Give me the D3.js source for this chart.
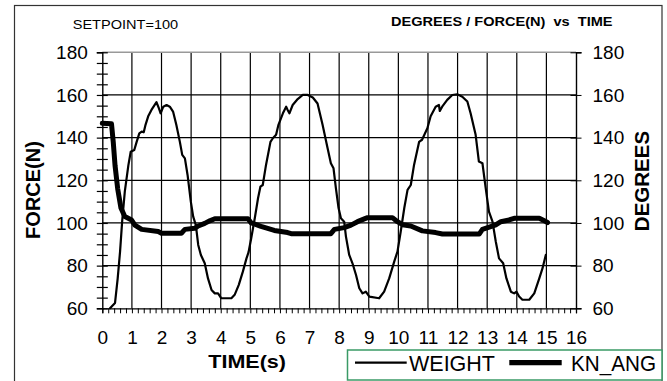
<!DOCTYPE html>
<html>
<head>
<meta charset="utf-8">
<script src="https://cdn.jsdelivr.net/npm/d3@7"></script>
<style>
  html, body { margin: 0; padding: 0; background: #fff; }
  svg { display: block; font-family: "Liberation Sans", Arial, Helvetica, sans-serif; }
</style>
</head>
<body>
<svg id="chart" width="667" height="381"></svg>
<script>
// Time (s) and force of the WEIGHT trace
const weightTime = [0.26,0.43,0.52,0.60,0.67,0.76,0.88,0.96,1.08,1.16,1.25,1.33,1.40,1.46,1.55,1.66,1.83,1.91,1.97,2.06,2.17,2.28,2.39,2.50,2.62,2.70,2.79,2.88,2.99,3.07,3.16,3.24,3.33,3.46,3.57,3.69,3.80,3.91,4.02,4.36,4.47,4.61,4.75,4.87,4.94,5.03,5.15,5.26,5.34,5.42,5.53,5.68,5.76,5.87,5.95,6.10,6.21,6.26,6.32,6.43,6.60,6.77,6.94,7.11,7.27,7.44,7.61,7.72,7.81,7.89,7.98,8.06,8.17,8.23,8.34,8.45,8.57,8.68,8.79,8.90,9.02,9.35,9.52,9.69,9.86,9.97,10.08,10.20,10.31,10.42,10.53,10.70,10.80,10.98,11.09,11.26,11.37,11.40,11.48,11.65,11.82,11.99,12.16,12.33,12.44,12.61,12.72,12.84,12.95,13.06,13.18,13.29,13.40,13.54,13.65,13.80,13.91,13.99,14.08,14.19,14.42,14.59,14.76,14.87,14.98];
const weightValues = [60,62.5,74,86.6,100.6,114.7,127,133.4,134.2,138,142,142.8,142.5,146,150,153,156.6,153.8,151.4,154.5,155.3,154.5,152.2,146,138,131.9,130.3,122.5,110,103,99,89.7,85,81.1,74,68.6,67,67,64.7,64.7,66.3,71,77.3,83.4,86.3,92.8,102.2,111.6,117,117.8,127.2,138,139.7,141.3,146,151.4,154.5,153,151.4,155.3,158.1,160,160,158.8,156,146,135,128,125.6,116.3,107,102.2,100.6,93.6,85,81.1,75.6,69.4,67,67.8,65.5,64.7,67.8,74,81.9,86.6,96,107,115.5,117.8,127.2,138,139,144.4,150,154.5,155.3,152.5,154.5,157.7,160,160.3,159.2,156.9,151.4,141.3,128.8,128,116.3,105.3,100.6,91.3,83.4,81.1,74,67.8,67,67.8,65.5,64,64,67,74,78.8,85];

// Time (s) and knee angle (degrees) of the KN_ANG trace
const kneeTime = [0,0.31,0.37,0.43,0.52,0.63,0.76,0.99,1.10,1.33,1.89,2.00,2.67,2.79,3.12,3.24,3.46,3.63,3.80,4.92,5.03,5.15,5.36,5.81,6.26,6.38,7.72,7.84,8.17,8.40,8.62,8.85,8.96,9.80,9.97,10.14,10.42,10.81,11.26,11.49,12.73,12.84,13.12,13.29,13.46,13.74,13.91,14.76,14.93,15.04];
const kneeValues = [146.7,146.5,138,127,116,107,103,101.4,99,97,96,95.2,95.2,97,97.5,98.6,99.8,101,102,102,100,99.5,98.4,96.5,95.5,95,95,97,97.8,99,100.6,101.9,102.5,102.5,100.6,99.2,98.6,96.3,95.5,94.8,94.8,97,98.3,99.1,100.6,101.4,102.2,102.2,101,100.2];

// Axis ranges and tick labels
const timeTicks = [0,1,2,3,4,5,6,7,8,9,10,11,12,13,14,15,16];
const valueTicks = [60,80,100,120,140,160,180];
const seriesNames = ["WEIGHT", "KN_ANG"];

const svg = d3.select("#chart");
const plotLeft = 102.3, plotRight = 576, plotTop = 52.3, plotBottom = 308.3;

const x = d3.scaleLinear().domain([0, 16]).range([plotLeft, plotRight]);
const y = d3.scaleLinear().domain([60, 180]).range([plotBottom, plotTop]);

// outer frame
svg.append("rect")
  .attr("x", 14.5).attr("y", 5.5).attr("width", 647.5).attr("height", 380)
  .attr("fill", "none").attr("stroke", "#333").attr("stroke-width", 1.2);

// grid
const grid = svg.append("g");
grid.selectAll("line.v").data(timeTicks.filter(d => d > 0 && d < 16)).enter()
  .append("line").attr("class", "v")
  .attr("x1", d => x(d)).attr("x2", d => x(d))
  .attr("y1", plotTop).attr("y2", plotBottom)
  .attr("stroke", "#000").attr("stroke-width", 1.2);
grid.selectAll("line.h").data(valueTicks.filter(d => d > 60 && d < 180)).enter()
  .append("line").attr("class", "h")
  .attr("x1", plotLeft).attr("x2", plotRight)
  .attr("y1", d => y(d)).attr("y2", d => y(d))
  .attr("stroke", "#000").attr("stroke-width", 1.2);
// top edge of plot area
svg.append("line")
  .attr("x1", plotLeft).attr("x2", plotRight).attr("y1", y(180)).attr("y2", y(180))
  .attr("stroke", "#999").attr("stroke-width", 1.6);

// bottom axis: minor ticks every 0.2 s, labels on whole seconds
const xAxis = d3.axisBottom(x)
  .tickValues(d3.range(0, 80.5, 1).map(i => i / 5))
  .tickSize(5).tickPadding(6)
  .tickFormat(d => Math.abs(d - Math.round(d)) < 1e-6 ? d3.format("d")(Math.round(d)) : "");
const gx = svg.append("g").attr("transform", `translate(0,${plotBottom})`).call(xAxis);
gx.select(".domain").attr("stroke", "#000").attr("stroke-width", 1.3);
gx.selectAll(".tick line").attr("stroke", "#000").attr("stroke-width", 1);
gx.selectAll(".tick text").attr("font-size", 19).attr("fill", "#000").attr("y", 22).attr("dy", "0.71em");

// left axis: minor ticks every 5, crossing the axis line
const yAxisL = d3.axisLeft(y)
  .tickValues(d3.range(60, 181, 5))
  .tickSize(5.5).tickPadding(9)
  .tickFormat(d => d % 20 === 0 ? d : "");
const gyl = svg.append("g").attr("transform", `translate(${plotLeft},0)`).call(yAxisL);
gyl.select(".domain").attr("stroke", "#000").attr("stroke-width", 1.4);
gyl.selectAll(".tick line").attr("x1", 5.5).attr("stroke", "#000").attr("stroke-width", 1.2);
gyl.selectAll(".tick text").attr("font-size", 19).attr("fill", "#000");

// right axis: major ticks only
const yAxisR = d3.axisRight(y)
  .tickValues(valueTicks)
  .tickSize(5.5).tickPadding(11);
const gyr = svg.append("g").attr("transform", `translate(${plotRight},0)`).call(yAxisR);
gyr.select(".domain").attr("stroke", "#000").attr("stroke-width", 1.4);
gyr.selectAll(".tick line").attr("x1", -5.5).attr("stroke", "#000").attr("stroke-width", 1);
gyr.selectAll(".tick text").attr("font-size", 19).attr("fill", "#000");

// traces
const line = d3.line().x(d => x(d[0])).y(d => y(d[1])).curve(d3.curveLinear);
const weightData = d3.zip(weightTime, weightValues);
const kneeData = d3.zip(kneeTime, kneeValues);

const plot = svg.append("g");
plot.append("path").datum(kneeData)
  .attr("d", line).attr("fill", "none")
  .attr("stroke", "#000").attr("stroke-width", 5)
  .attr("stroke-linejoin", "round").attr("stroke-linecap", "round");
plot.append("path").datum(weightData)
  .attr("d", line).attr("fill", "none")
  .attr("stroke", "#000").attr("stroke-width", 2.2)
  .attr("stroke-linejoin", "round").attr("stroke-linecap", "round");

// titles
svg.append("text")
  .attr("x", 72.7).attr("y", 29.3)
  .attr("font-size", 12.5).attr("fill", "#000")
  .attr("textLength", 105.5).attr("lengthAdjust", "spacingAndGlyphs")
  .text("SETPOINT=100");
svg.append("text")
  .attr("x", 391).attr("y", 26)
  .attr("font-size", 13).attr("font-weight", "bold").attr("fill", "#000")
  .attr("textLength", 221.5).attr("lengthAdjust", "spacingAndGlyphs")
  .attr("xml:space", "preserve")
  .text("DEGREES / FORCE(N)  vs  TIME");

// axis titles
svg.append("text")
  .attr("x", 208.3).attr("y", 368.3)
  .attr("font-size", 18.6).attr("font-weight", "bold").attr("fill", "#000")
  .attr("textLength", 77.7).attr("lengthAdjust", "spacingAndGlyphs")
  .text("TIME(s)");
svg.append("text")
  .attr("transform", "translate(39.5,190) rotate(-90)")
  .attr("text-anchor", "middle")
  .attr("font-size", 20).attr("font-weight", "bold").attr("fill", "#000")
  .text("FORCE(N)");
svg.append("text")
  .attr("transform", "translate(648.5,181) rotate(-90)")
  .attr("text-anchor", "middle")
  .attr("font-size", 20.5).attr("font-weight", "bold").attr("fill", "#000")
  .text("DEGREES");

// legend
const legend = svg.append("g");
legend.append("rect")
  .attr("x", 347.5).attr("y", 350).attr("width", 314.5).attr("height", 30)
  .attr("fill", "#fff").attr("stroke", "#3a9a66").attr("stroke-width", 1.5);
const legendItems = [
  { name: seriesNames[0], x1: 355, x2: 406.7, width: 2.2, tx: 409, tl: 86 },
  { name: seriesNames[1], x1: 509.3, x2: 561.7, width: 5.3, tx: 571, tl: 85 }
];
legendItems.forEach(it => {
  legend.append("line")
    .attr("x1", it.x1).attr("x2", it.x2).attr("y1", 362.7).attr("y2", 362.7)
    .attr("stroke", "#000").attr("stroke-width", it.width);
  legend.append("text")
    .attr("x", it.tx).attr("y", 370.7)
    .attr("font-size", 21.5).attr("fill", "#000")
    .attr("textLength", it.tl).attr("lengthAdjust", "spacingAndGlyphs")
    .text(it.name);
});
</script>
</body>
</html>
